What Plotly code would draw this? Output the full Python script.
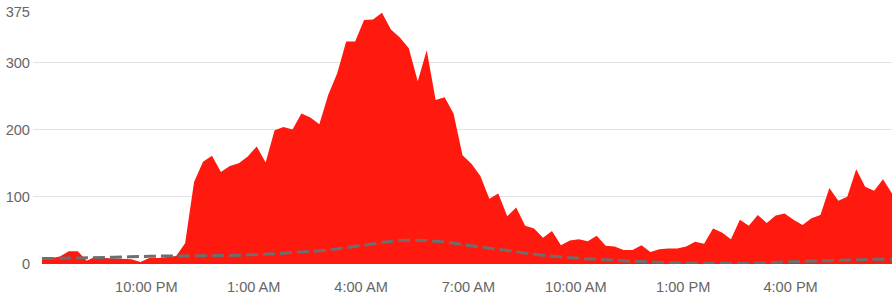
import pandas as pd
import plotly.graph_objects as go

# 15-minute samples, 7:05 PM -> 6:50 PM next day
start_time = "2024-01-01 19:05"
values = [6, 8, 11, 19, 19, 5, 11, 9, 8, 7, 7, 3, 9, 9, 11, 12,
          31, 122, 152, 161, 137, 146, 150, 160, 175, 151, 199, 204, 200, 224, 218, 208,
          252, 284, 331, 331, 363, 364, 374, 349, 337, 321, 272, 318, 244, 248, 224, 162,
          149, 131, 97, 105, 71, 84, 57, 53, 39, 49, 28, 35, 37, 34, 42, 27,
          26, 21, 21, 28, 18, 22, 23, 23, 26, 33, 30, 53, 47, 37, 66, 57,
          73, 61, 72, 75, 66, 58, 68, 73, 113, 94, 100, 141, 115, 109, 126, 105]
times = pd.date_range(start_time, periods=len(values), freq="15min")

# hourly baseline (dashed)
baseline_times = ["2024-01-01 19:05", "2024-01-01 20:05", "2024-01-01 21:05", "2024-01-01 22:05",
                  "2024-01-01 23:05", "2024-01-02 00:05", "2024-01-02 01:05", "2024-01-02 02:05",
                  "2024-01-02 03:05", "2024-01-02 04:05", "2024-01-02 05:05", "2024-01-02 06:05",
                  "2024-01-02 07:05", "2024-01-02 08:05", "2024-01-02 09:05", "2024-01-02 10:05",
                  "2024-01-02 11:05", "2024-01-02 12:05", "2024-01-02 13:05", "2024-01-02 14:05",
                  "2024-01-02 15:05", "2024-01-02 16:05", "2024-01-02 17:05", "2024-01-02 18:05",
                  "2024-01-02 18:50"]
baseline = [8, 9, 10, 11.5, 12, 12.5, 14, 17, 21, 28, 35, 34, 27, 20, 13, 8.5,
            5.5, 3, 1.5, 1, 1.5, 3.5, 5, 6.5, 7]

tick_times = ["2024-01-01 22:00", "2024-01-02 01:00", "2024-01-02 04:00", "2024-01-02 07:00",
              "2024-01-02 10:00", "2024-01-02 13:00", "2024-01-02 16:00"]
tick_labels = ["10:00 PM", "1:00 AM", "4:00 AM", "7:00 AM", "10:00 AM", "1:00 PM", "4:00 PM"]
y_ticks = [0, 100, 200, 300, 375]

fig = go.Figure()
fig.add_trace(go.Scatter(
    x=times, y=values, mode="lines", fill="tozeroy",
    line=dict(width=0, color="#FF190E"), fillcolor="#FF190E",
    hoverinfo="skip", showlegend=False))
fig.add_trace(go.Scatter(
    x=baseline_times, y=baseline, mode="lines",
    line=dict(width=3, color="#6E6E6E", dash="12px,5px", shape="spline", smoothing=1.0),
    hoverinfo="skip", showlegend=False))

fig.update_layout(
    width=893, height=300,
    margin=dict(l=33, r=1, t=12, b=36),
    paper_bgcolor="white", plot_bgcolor="white",
    font=dict(family="Liberation Sans, Arial, sans-serif", size=14.6, color="#666666"),
    xaxis=dict(range=["2024-01-01 18:50", "2024-01-02 18:50"],
               tickvals=tick_times, ticktext=tick_labels,
               showgrid=False, zeroline=False, showline=False,
               ticks="", ticklabelstandoff=12),
    yaxis=dict(range=[0, 375], tickvals=y_ticks,
               showgrid=True, gridcolor="#E2E2E2", gridwidth=1,
               zeroline=False, showline=False, ticks="", ticklabelstandoff=2),
)
fig.write_html("out.html")
